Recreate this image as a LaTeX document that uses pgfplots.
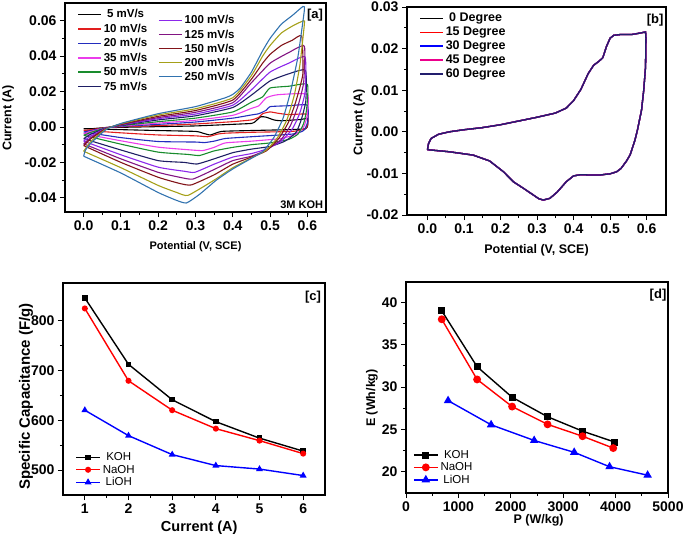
\documentclass[border=0pt]{standalone}
\usepackage{fontspec}
\setmainfont{Liberation Sans}
\usepackage{pgfplots}
\pgfplotsset{compat=1.18}
\usepackage{pgfplotstable}

\definecolor{c5}{RGB}{0,0,0}
\definecolor{c10}{RGB}{225,30,30}
\definecolor{c20}{RGB}{35,45,190}
\definecolor{c35}{RGB}{235,60,235}
\definecolor{c50}{RGB}{25,140,45}
\definecolor{c75}{RGB}{30,30,100}
\definecolor{c100}{RGB}{140,40,235}
\definecolor{c125}{RGB}{130,20,130}
\definecolor{c150}{RGB}{130,20,25}
\definecolor{c200}{RGB}{165,160,25}
\definecolor{c250}{RGB}{50,115,175}
\definecolor{dnavy}{RGB}{35,30,110}

\pgfplotstableread{
x y
0 -0.0043
0.003 -0.0028
0.01 -0.0016
0.03 -0.0006
0.06 0.0
0.1 0.0005
0.15 0.0010
0.2 0.0017
0.25 0.0026
0.3 0.0035
0.35 0.0045
0.38 0.0057
0.40 0.0075
0.42 0.0102
0.44 0.0140
0.455 0.0160
0.47 0.0170
0.48 0.0178
0.49 0.0205
0.50 0.0225
0.51 0.0232
0.53 0.0234
0.56 0.0234
0.58 0.0237
0.597 0.0240
0.598 0.0225
0.597 0.0156
0.592 0.0100
0.586 0.0052
0.575 0.0005
0.568 -0.0020
0.555 -0.0055
0.545 -0.0070
0.53 -0.0088
0.518 -0.0096
0.50 -0.0101
0.47 -0.0104
0.45 -0.0104
0.42 -0.0103
0.40 -0.0106
0.38 -0.0120
0.355 -0.0145
0.335 -0.0160
0.317 -0.0164
0.305 -0.0161
0.29 -0.0152
0.263 -0.0136
0.235 -0.0120
0.208 -0.0096
0.17 -0.0070
0.125 -0.0056
0.06 -0.0048
0.0 -0.0043
}\cvb

\pgfplotstableread{
I KOH NaOH LiOH
1 845 824 620
2 712 679 569
3 641 620 531
4 597 583 509
5 564 559 502
6 538 533 489
}\capdata

\pgfplotstableread{
P E
682 39.0
1357 32.4
2025 28.8
2701 26.5
3369 24.8
3987 23.5
}\dkoh
\pgfplotstableread{
P E
682 38.0
1357 30.9
2025 27.7
2701 25.6
3369 24.2
3955 22.8
}\dnaoh
\pgfplotstableread{
P E
803 28.4
1624 25.55
2446 23.7
3210 22.3
3885 20.6
4611 19.6
}\dlioh

\pgfplotsset{
  panel/.style={
    scale only axis,
    axis line style={line width=1.1pt},
    tick align=outside, tick pos=left,
    major tick length=5pt, minor tick length=3pt,
    every tick/.style={black, line width=0.9pt},
    minor tick num=1,
    scaled x ticks=false, scaled y ticks=false,
    /pgf/number format/assume math mode=true,
    ticklabel style={font=\bfseries\fontsize{14}{15}\selectfont},
    legend style={draw=none, fill=none},
  },
  lineleg/.style={legend image code/.code={\draw[##1, line width=1.5pt] (0pt,0pt) -- (23pt,0pt);}},
  markleg/.style={legend image code/.code={\draw[mark repeat=2,mark phase=2,##1] plot coordinates {(0pt,0pt) (12pt,0pt) (24pt,0pt)};}},
  cv/.style={line width=1.1pt, smooth, tension=0.3},
}

\begin{document}
\begin{tikzpicture}
\useasboundingbox (0,0) rectangle (685pt,-538pt);

% ---------------- panel a ----------------
\begin{axis}[panel, lineleg,
  at={(65pt,-212pt)}, anchor=south west, width=261pt, height=209pt,
  xmin=-0.05, xmax=0.65, ymin=-0.048, ymax=0.07,
  xtick={0,0.1,0.2,0.3,0.4,0.5,0.6},
  ytick={-0.04,-0.02,0,0.02,0.04,0.06},
  xticklabel style={/pgf/number format/.cd, fixed, fixed zerofill, precision=1},
  yticklabel style={/pgf/number format/.cd, fixed, fixed zerofill, precision=2},
  xlabel={Potential (V, SCE)}, ylabel={Current (A)},
  xlabel style={font=\bfseries\fontsize{11}{13}\selectfont, at={(axis description cs:0.5,-0.167)}, anchor=center},
  ylabel style={font=\bfseries\fontsize{12.5}{14}\selectfont, at={(axis description cs:-0.218,0.45)}, anchor=center, rotate=0},
  legend style={at={(0.035,0.99)}, anchor=north west, font=\bfseries\fontsize{11.5}{12}\selectfont,
    nodes={inner ysep=2.3pt}},
]
\addplot[cv, c5] coordinates {(0,-0.001) (0.02,-0.001) (0.06,-0.0003) (0.1,-0.0002) (0.2,0.0002) (0.3,0.0006) (0.4,0.0015) (0.45,0.002) (0.46,0.003) (0.475,0.0058) (0.49,0.0055) (0.51,0.004) (0.53,0.0035) (0.58,0.0042) (0.6,0.0047) (0.601,0.001) (0.595,-0.001) (0.55,-0.0015) (0.45,-0.002) (0.37,-0.0025) (0.34,-0.0045) (0.32,-0.0035) (0.3,-0.0025) (0.2,-0.002) (0.1,-0.0015) (0,-0.001)};
\addlegendentry{5 mV/s}
\addplot[cv, c10] coordinates {(0,-0.0019) (0.02,-0.0015) (0.06,-0.0003) (0.1,0.0001) (0.2,0.0008) (0.3,0.0017) (0.4,0.003) (0.45,0.004) (0.47,0.0055) (0.48,0.0075) (0.5,0.0085) (0.52,0.0078) (0.55,0.007) (0.6,0.0072) (0.601,0.002) (0.595,-0.001) (0.56,-0.0025) (0.45,-0.003) (0.38,-0.0035) (0.36,-0.004) (0.333,-0.0055) (0.3,-0.005) (0.2,-0.0045) (0.1,-0.0033) (0,-0.0019)};
\addlegendentry{10 mV/s}
\addplot[cv, c20] coordinates {(0,-0.0028) (0.02,-0.002) (0.06,-0.0004) (0.1,0.0003) (0.2,0.0015) (0.3,0.0028) (0.4,0.005) (0.45,0.0068) (0.47,0.0075) (0.49,0.0095) (0.5,0.0115) (0.55,0.012) (0.6,0.0123) (0.601,0.003) (0.59,-0.002) (0.56,-0.004) (0.45,-0.0055) (0.38,-0.0065) (0.35,-0.008) (0.324,-0.0088) (0.3,-0.0085) (0.2,-0.0082) (0.1,-0.006) (0,-0.0028)};
\addlegendentry{20 mV/s}
\addplot[cv, c35] coordinates {(0,-0.0038) (0.02,-0.0025) (0.06,-0.0005) (0.1,0.0005) (0.2,0.0022) (0.3,0.0038) (0.4,0.0066) (0.45,0.0105) (0.47,0.012) (0.49,0.0165) (0.52,0.0182) (0.6,0.0184) (0.599,0.006) (0.59,0) (0.57,-0.004) (0.53,-0.0065) (0.45,-0.008) (0.38,-0.009) (0.35,-0.0115) (0.32,-0.0133) (0.29,-0.013) (0.2,-0.0114) (0.1,-0.0078) (0,-0.0038)};
\addlegendentry{35 mV/s}
\addplot[cv, c50] coordinates {(0,-0.0047) (0.02,-0.003) (0.06,-0.0005) (0.1,0.0007) (0.2,0.003) (0.3,0.005) (0.4,0.0085) (0.45,0.014) (0.48,0.017) (0.5,0.022) (0.55,0.023) (0.6,0.024) (0.598,0.01) (0.59,0.002) (0.575,-0.004) (0.55,-0.007) (0.5,-0.009) (0.45,-0.010) (0.4,-0.0115) (0.35,-0.0135) (0.311,-0.0161) (0.28,-0.0155) (0.2,-0.0142) (0.1,-0.0097) (0,-0.0047)};
\addlegendentry{50 mV/s}
\addplot[cv, c75] coordinates {(0,-0.0066) (0.02,-0.004) (0.06,-0.0006) (0.1,0.0009) (0.2,0.004) (0.3,0.0063) (0.4,0.011) (0.45,0.018) (0.5,0.026) (0.55,0.030) (0.595,0.032) (0.596,0.015) (0.585,0.005) (0.57,-0.003) (0.54,-0.008) (0.5,-0.011) (0.45,-0.0125) (0.4,-0.0145) (0.35,-0.018) (0.304,-0.0209) (0.27,-0.020) (0.2,-0.019) (0.1,-0.013) (0,-0.0066)};
\addlegendentry{75 mV/s}
\addplot[cv, c100, forget plot] coordinates {(0,-0.008) (0.02,-0.005) (0.06,-0.0007) (0.1,0.0011) (0.2,0.0047) (0.3,0.0073) (0.4,0.0123) (0.45,0.021) (0.5,0.031) (0.55,0.036) (0.594,0.0395) (0.594,0.02) (0.58,0.008) (0.56,-0.001) (0.53,-0.008) (0.49,-0.0125) (0.45,-0.015) (0.4,-0.017) (0.35,-0.021) (0.298,-0.0256) (0.27,-0.025) (0.2,-0.0227) (0.1,-0.0157) (0,-0.008)};
\addplot[cv, c125, forget plot] coordinates {(0,-0.0095) (0.02,-0.006) (0.06,-0.0008) (0.1,0.0013) (0.2,0.0053) (0.3,0.0083) (0.4,0.0137) (0.45,0.025) (0.5,0.036) (0.55,0.042) (0.592,0.0456) (0.59,0.025) (0.575,0.012) (0.555,0.001) (0.53,-0.007) (0.49,-0.013) (0.45,-0.0165) (0.4,-0.019) (0.35,-0.024) (0.293,-0.0294) (0.26,-0.0285) (0.2,-0.0256) (0.1,-0.018) (0,-0.0095)};
\addplot[cv, c150, forget plot] coordinates {(0,-0.0105) (0.02,-0.0065) (0.06,-0.001) (0.1,0.0015) (0.2,0.006) (0.3,0.0093) (0.4,0.0152) (0.45,0.027) (0.48,0.036) (0.5,0.041) (0.53,0.046) (0.56,0.049) (0.585,0.0513) (0.588,0.03) (0.57,0.015) (0.55,0.003) (0.525,-0.006) (0.49,-0.0135) (0.45,-0.017) (0.4,-0.021) (0.35,-0.027) (0.289,-0.0327) (0.26,-0.032) (0.2,-0.0284) (0.1,-0.020) (0,-0.0105)};
\addplot[cv, c200, forget plot] coordinates {(0,-0.0137) (0.02,-0.008) (0.06,-0.0012) (0.1,0.0018) (0.2,0.0068) (0.3,0.0103) (0.4,0.0165) (0.45,0.029) (0.48,0.040) (0.5,0.046) (0.53,0.053) (0.56,0.057) (0.59,0.060) (0.592,0.058) (0.58,0.035) (0.565,0.018) (0.545,0.004) (0.52,-0.006) (0.49,-0.013) (0.45,-0.0175) (0.4,-0.023) (0.35,-0.030) (0.28,-0.0386) (0.25,-0.037) (0.2,-0.033) (0.1,-0.023) (0,-0.0137)};
\addplot[cv, c250, forget plot] coordinates {(0,-0.0165) (0.005,-0.013) (0.02,-0.009) (0.06,-0.0015) (0.1,0.002) (0.2,0.0075) (0.3,0.0115) (0.38,0.0165) (0.4,0.0184) (0.42,0.022) (0.45,0.031) (0.48,0.043) (0.5,0.050) (0.53,0.058) (0.56,0.063) (0.588,0.068) (0.592,0.066) (0.575,0.04) (0.555,0.02) (0.535,0.005) (0.51,-0.006) (0.48,-0.014) (0.46,-0.0165) (0.4,-0.0237) (0.356,-0.030) (0.311,-0.038) (0.276,-0.0429) (0.25,-0.0415) (0.2,-0.037) (0.1,-0.026) (0,-0.0165)};
\node[font=\bfseries\fontsize{13}{14}\selectfont] at (axis description cs:0.958,0.943) {[a]};
\node[font=\bfseries\fontsize{11}{12}\selectfont] at (axis description cs:0.907,0.033) {3M KOH};
\end{axis}
\begin{axis}[panel, lineleg, hide axis,
  at={(65pt,-212pt)}, anchor=south west, width=261pt, height=209pt,
  xmin=-0.05, xmax=0.65, ymin=-0.048, ymax=0.07,
  legend style={at={(0.345,0.96)}, anchor=north west, font=\bfseries\fontsize{11.5}{12}\selectfont,
    nodes={inner ysep=2.1pt}},
]
\addlegendimage{c100}\addlegendentry{100 mV/s}
\addlegendimage{c125}\addlegendentry{125 mV/s}
\addlegendimage{c150}\addlegendentry{150 mV/s}
\addlegendimage{c200}\addlegendentry{200 mV/s}
\addlegendimage{c250}\addlegendentry{250 mV/s}
\end{axis}

% ---------------- panel b ----------------
\begin{axis}[panel, lineleg,
  at={(407pt,-215pt)}, anchor=south west, width=259pt, height=208pt,
  xmin=-0.056, xmax=0.653, ymin=-0.02, ymax=0.03,
  xtick={0,0.1,0.2,0.3,0.4,0.5,0.6},
  ytick={-0.02,-0.01,0,0.01,0.02,0.03},
  xticklabel style={/pgf/number format/.cd, fixed, fixed zerofill, precision=1},
  yticklabel style={/pgf/number format/.cd, fixed, fixed zerofill, precision=2},
  xlabel={Potential (V, SCE)}, ylabel={Current (A)},
  xlabel style={font=\bfseries\fontsize{12.5}{14}\selectfont, at={(axis description cs:0.5,-0.168)}, anchor=center},
  ylabel style={font=\bfseries\fontsize{12.5}{14}\selectfont, at={(axis description cs:-0.185,0.445)}, anchor=center},
  legend style={at={(0.035,0.99)}, anchor=north west, font=\bfseries\fontsize{12.5}{13}\selectfont,
    nodes={inner ysep=1.9pt}},
]
\addplot[line width=1.3pt, black] table[x=x,y=y] {\cvb};
\addlegendentry{0 Degree}
\addplot[line width=1.3pt, red] table[x=x,y=y] {\cvb};
\addlegendentry{15 Degree}
\addplot[line width=1.3pt, blue] table[x=x,y=y] {\cvb};
\addlegendentry{30 Degree}
\addplot[line width=1.3pt, magenta] table[x=x,y=y] {\cvb};
\addlegendentry{45 Degree}
\addplot[line width=1.3pt, dnavy] table[x=x,y=y] {\cvb};
\addlegendentry{60 Degree}
\node[font=\bfseries\fontsize{13}{14}\selectfont] at (axis description cs:0.958,0.9375) {[b]};
\end{axis}

% ---------------- panel c ----------------
\begin{axis}[panel, markleg,
  at={(63pt,-495pt)}, anchor=south west, width=262pt, height=212pt,
  xmin=0.5, xmax=6.5, ymin=450, ymax=875,
  xtick={1,2,3,4,5,6}, ytick={500,600,700,800},
  xlabel={Current (A)}, ylabel={Specific Capacitance (F/g)},
  xlabel style={font=\bfseries\fontsize{14.5}{16}\selectfont, at={(axis description cs:0.52,-0.156)}, anchor=center},
  ylabel style={font=\bfseries\fontsize{15}{16}\selectfont, at={(axis description cs:-0.141,0.464)}, anchor=center},
  legend style={at={(0.035,0.02)}, anchor=south west, font=\fontsize{11.5}{12}\selectfont,
    nodes={inner ysep=1.4pt}},
]
\addplot[black, line width=1.4pt, mark=square*, mark size=2pt] table[x=I,y=KOH] {\capdata};
\addlegendentry{KOH}
\addplot[red, line width=1.4pt, mark=*, mark size=2.3pt] table[x=I,y=NaOH] {\capdata};
\addlegendentry{NaOH}
\addplot[blue, line width=1.4pt, mark=triangle*, mark size=2.6pt] table[x=I,y=LiOH] {\capdata};
\addlegendentry{LiOH}
\node[font=\bfseries\fontsize{13}{14}\selectfont] at (axis description cs:0.954,0.934) {[c]};
\end{axis}

% ---------------- panel d ----------------
\begin{axis}[panel, markleg,
  at={(406pt,-493pt)}, anchor=south west, width=262pt, height=211pt,
  xmin=0, xmax=5000, ymin=17.5, ymax=42.4,
  xtick={0,1000,2000,3000,4000,5000}, ytick={20,25,30,35,40},
  xticklabel style={/pgf/number format/1000 sep={}},
  xlabel={P (W/kg)}, ylabel={E (Wh/kg)},
  xlabel style={font=\bfseries\fontsize{12.5}{14}\selectfont, at={(axis description cs:0.506,-0.128)}, anchor=center},
  ylabel style={font=\bfseries\fontsize{12.5}{14}\selectfont, at={(axis description cs:-0.13,0.45)}, anchor=center},
  legend style={at={(0.015,0.022)}, anchor=south west, font=\fontsize{11.5}{12}\selectfont,
    nodes={inner ysep=1.4pt}},
]
\addplot[black, line width=1.4pt, mark=square*, mark size=2.8pt] table[x=P,y=E] {\dkoh};
\addlegendentry{KOH}
\addplot[red, line width=1.4pt, mark=*, mark size=3.2pt] table[x=P,y=E] {\dnaoh};
\addlegendentry{NaOH}
\addplot[blue, line width=1.4pt, mark=triangle*, mark size=3.6pt] table[x=P,y=E] {\dlioh};
\addlegendentry{LiOH}
\node[font=\bfseries\fontsize{13}{14}\selectfont] at (axis description cs:0.962,0.938) {[d]};
\end{axis}
\end{tikzpicture}
\end{document}
